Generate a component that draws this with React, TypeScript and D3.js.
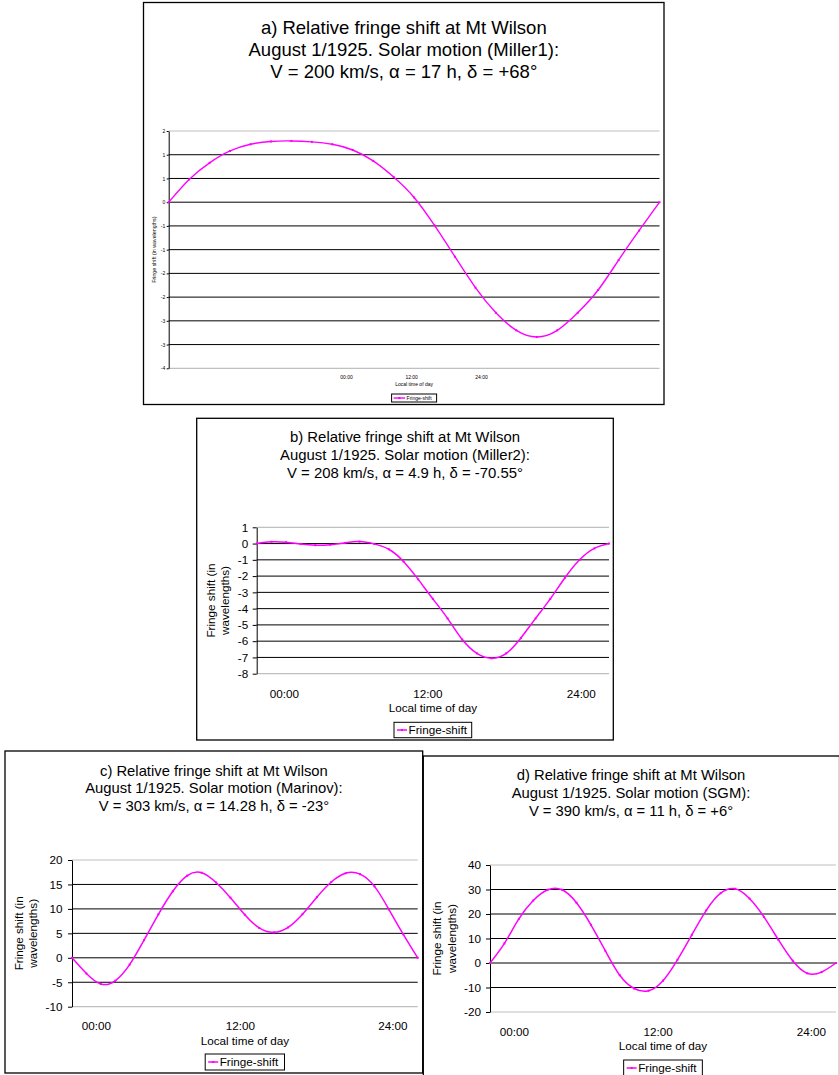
import { useEffect, useRef } from 'react';
import * as d3 from 'd3';

// sample times (hours after start of the run)
const HOURS = [0, 1, 2, 3, 4, 5, 6, 7, 8, 9, 10, 11, 12, 13, 14, 15, 16, 17, 18, 19, 20, 21, 22, 23, 24];

// fringe shift, one value per hour
const SHIFT_A = [0, 0.48, 0.83, 1.08, 1.22, 1.28, 1.29, 1.27, 1.22, 1.1, 0.87, 0.53, 0.1, -0.49, -1.15, -1.8, -2.33, -2.7, -2.84, -2.7, -2.33, -1.85, -1.22, -0.6, 0];
const SHIFT_B = [0, 0.11, 0.08, -0.03, -0.1, -0.07, 0.04, 0.12, -0.02, -0.35, -1.1, -2.2, -3.4, -4.6, -5.9, -6.75, -7.05, -6.75, -5.8, -4.6, -3.4, -2.1, -1.0, -0.3, 0];
const SHIFT_C = [0, -3.2, -5.35, -4.7, -1.4, 3.6, 8.9, 13.6, 16.8, 17.4, 15.4, 12.3, 8.8, 6.1, 5.2, 6.2, 8.9, 12.4, 15.5, 17.3, 17.1, 14.6, 9.9, 4.8, 0];
const SHIFT_D = [0, 8, 18, 25.5, 29.9, 29.9, 24.6, 15.6, 5, -5.0, -10.4, -11.3, -7.2, 1.3, 11.5, 21.5, 28.5, 30.3, 26.3, 18.8, 9.5, 0.9, -4.2, -3.7, 0];

// y ticks and their printed labels (panel a prints rounded half-steps)
const TICKS_A = [1.5, 1, 0.5, 0, -0.5, -1, -1.5, -2, -2.5, -3, -3.5];
const TICK_LABELS_A = ['2', '1', '1', '0', '-1', '-1', '-2', '-2', '-3', '-3', '-4'];
const TICKS_B = [1, 0, -1, -2, -3, -4, -5, -6, -7, -8];
const TICK_LABELS_B = ['1', '0', '-1', '-2', '-3', '-4', '-5', '-6', '-7', '-8'];
const TICKS_C = [20, 15, 10, 5, 0, -5, -10];
const TICK_LABELS_C = ['20', '15', '10', '5', '0', '-5', '-10'];
const TICKS_D = [40, 30, 20, 10, 0, -10, -20];
const TICK_LABELS_D = ['40', '30', '20', '10', '0', '-10', '-20'];

// category labels and where the spreadsheet put them on the time axis
const TIME_LABELS = ['00:00', '12:00', '24:00'];
const TIME_AT_A = [8.7, 11.88, 15.3];
const TIME_AT_B = [1.89, 11.66, 22.11];
const TIME_AT_C = [1.69, 11.69, 22.27];
const TIME_AT_D = [1.69, 11.67, 22.3];

const TITLE_A = ['a) Relative fringe shift at Mt Wilson', 'August 1/1925. Solar motion (Miller1):', 'V = 200 km/s, \u03b1 = 17 h, \u03b4 = +68\u00b0'];
const TITLE_B = ['b) Relative fringe shift at Mt Wilson', 'August 1/1925. Solar motion (Miller2):', 'V = 208 km/s, \u03b1 = 4.9 h, \u03b4 = -70.55\u00b0'];
const TITLE_C = ['c) Relative fringe shift at Mt Wilson', 'August 1/1925. Solar motion (Marinov):', 'V = 303 km/s, \u03b1 = 14.28 h, \u03b4 = -23\u00b0'];
const TITLE_D = ['d) Relative fringe shift at Mt Wilson', 'August 1/1925. Solar motion (SGM):', 'V = 390 km/s, \u03b1 = 11 h, \u03b4 = +6\u00b0'];

const X_TITLE = 'Local time of day';
const SERIES_NAME = 'Fringe-shift';

const FONT = '"Liberation Sans", Arial, sans-serif';
const PINK = '#ff00ff';

type Layout = {
  box: [number, number, number, number];
  plot: [number, number, number, number];
  title: { x: number; y: number; gap: number; size: number };
  tick: { size: number; gap: number; len: number };
  yTitle: { lines: string[]; x: number[]; size: number };
  xLabelY: number;
  xTitleY: number;
  legend: { y: number; w: number; h: number; size: number; line: [number, number]; textX: number };
  stroke: number;
  marker: number;
};

type Panel = {
  shift: number[];
  ticks: number[];
  tickLabels: string[];
  timeAt: number[];
  title: string[];
  layout: Layout;
};

const PANELS: Panel[] = [
  {
    shift: SHIFT_A,
    ticks: TICKS_A,
    tickLabels: TICK_LABELS_A,
    timeAt: TIME_AT_A,
    title: TITLE_A,
    layout: {
      box: [143.5, 2.5, 664, 404.5],
      plot: [168.7, 131, 659.5, 368.3],
      title: { x: 403.8, y: 33.5, gap: 22, size: 18.5 },
      tick: { size: 5, gap: 3.5, len: 2 },
      yTitle: { lines: ['Fringe shift (in wavelengths)'], x: [154], size: 5.3 },
      xLabelY: 378.5,
      xTitleY: 385.8,
      legend: { y: 394, w: 45, h: 8, size: 5, line: [2, 13.5], textX: 15 },
      stroke: 1.4,
      marker: 2,
    },
  },
  {
    shift: SHIFT_B,
    ticks: TICKS_B,
    tickLabels: TICK_LABELS_B,
    timeAt: TIME_AT_B,
    title: TITLE_B,
    layout: {
      box: [196.7, 418.3, 613.3, 740],
      plot: [256.7, 527.3, 609, 673.7],
      title: { x: 405, y: 442.4, gap: 17.8, size: 14.9 },
      tick: { size: 11.7, gap: 8.5, len: 4 },
      yTitle: { lines: ['Fringe shift (in', 'wavelengths)'], x: [211, 225], size: 11.7 },
      xLabelY: 697.9,
      xTitleY: 712.2,
      legend: { y: 722.3, w: 77.7, h: 15.4, size: 11.7, line: [3, 13], textX: 14.5 },
      stroke: 1.5,
      marker: 2,
    },
  },
  {
    shift: SHIFT_C,
    ticks: TICKS_C,
    tickLabels: TICK_LABELS_C,
    timeAt: TIME_AT_C,
    title: TITLE_C,
    layout: {
      box: [5, 751, 422.7, 1073],
      plot: [72, 860, 417.7, 1006.7],
      title: { x: 213.9, y: 775.5, gap: 17.9, size: 14.8 },
      tick: { size: 11.7, gap: 9.5, len: 4 },
      yTitle: { lines: ['Fringe shift (in', 'wavelengths)'], x: [19, 33.3], size: 11.7 },
      xLabelY: 1029.9,
      xTitleY: 1044.9,
      legend: { y: 1054, w: 79.3, h: 16, size: 11.7, line: [3, 13], textX: 14.5 },
      stroke: 1.5,
      marker: 2,
    },
  },
  {
    shift: SHIFT_D,
    ticks: TICKS_D,
    tickLabels: TICK_LABELS_D,
    timeAt: TIME_AT_D,
    title: TITLE_D,
    layout: {
      box: [423.3, 756, 839.5, 1090],
      plot: [490, 865, 836, 1012],
      title: { x: 631, y: 780.4, gap: 17.9, size: 14.8 },
      tick: { size: 11.7, gap: 9, len: 4 },
      yTitle: { lines: ['Fringe shift (in', 'wavelengths)'], x: [436.7, 451.7], size: 11.7 },
      xLabelY: 1035.9,
      xTitleY: 1049.9,
      legend: { y: 1060, w: 78.7, h: 16, size: 11.7, line: [3, 13], textX: 14.5 },
      stroke: 1.5,
      marker: 2,
    },
  },
];

function drawPanel(svg: d3.Selection<SVGSVGElement, unknown, null, undefined>, p: Panel) {
  const L = p.layout;
  const [bx0, by0, bx1, by1] = L.box;
  const [px0, py0, px1, py1] = L.plot;
  const g = svg.append('g').attr('font-family', FONT).attr('fill', '#000');

  g.append('rect')
    .attr('x', bx0)
    .attr('y', by0)
    .attr('width', bx1 - bx0)
    .attr('height', by1 - by0)
    .attr('fill', '#fff')
    .attr('stroke', '#000')
    .attr('stroke-width', 1.3);

  // title, three centred lines
  p.title.forEach((line, i) => {
    g.append('text')
      .attr('x', L.title.x)
      .attr('y', L.title.y + i * L.title.gap)
      .attr('text-anchor', 'middle')
      .attr('font-size', L.title.size)
      .text(line);
  });

  const x = d3.scaleLinear().domain([HOURS[0], HOURS[HOURS.length - 1]]).range([px0, px1]);
  const [yMin, yMax] = d3.extent(p.ticks) as [number, number];
  const y = d3.scaleLinear().domain([yMin, yMax]).range([py1, py0]);

  // gridlines; the plot-area edges are light grey
  p.ticks.forEach((t) => {
    const edge = t === yMin || t === yMax;
    g.append('line')
      .attr('x1', px0)
      .attr('x2', px1)
      .attr('y1', y(t))
      .attr('y2', y(t))
      .attr('stroke', edge ? '#c0c0c0' : '#000')
      .attr('stroke-width', edge ? 1.2 : 1);
  });

  const axis = d3
    .axisLeft(y)
    .tickValues(p.ticks)
    .tickFormat((d) => p.tickLabels[p.ticks.indexOf(d as number)])
    .tickSize(L.tick.len)
    .tickSizeOuter(0)
    .tickPadding(L.tick.gap - L.tick.len);
  const ax = g.append('g').attr('transform', `translate(${px0},0)`).call(axis);
  ax.attr('font-family', FONT).attr('font-size', L.tick.size);
  ax.selectAll('path.domain').attr('stroke', '#000').attr('stroke-width', 1);
  ax.selectAll('.tick line').attr('stroke', '#000');
  ax.selectAll('.tick text').attr('fill', '#000');

  // y-axis title
  const yc = (py0 + py1) / 2;
  L.yTitle.lines.forEach((line, i) => {
    g.append('text')
      .attr('transform', `translate(${L.yTitle.x[i]},${yc}) rotate(-90)`)
      .attr('text-anchor', 'middle')
      .attr('dy', '0.35em')
      .attr('font-size', L.yTitle.size)
      .text(line);
  });

  // time labels
  TIME_LABELS.forEach((lab, i) => {
    g.append('text')
      .attr('x', x(p.timeAt[i]))
      .attr('y', L.xLabelY)
      .attr('text-anchor', 'middle')
      .attr('font-size', L.tick.size)
      .text(lab);
  });
  const xc = (px0 + px1) / 2;
  g.append('text')
    .attr('x', xc)
    .attr('y', L.xTitleY)
    .attr('text-anchor', 'middle')
    .attr('font-size', L.tick.size)
    .text(X_TITLE);

  // the series
  const line = d3
    .line<number>()
    .x((_, i) => x(HOURS[i]))
    .y((d) => y(d))
    .curve(d3.curveNatural);
  g.append('path')
    .attr('d', line(p.shift) as string)
    .attr('fill', 'none')
    .attr('stroke', PINK)
    .attr('stroke-width', L.stroke);
  g.selectAll(null)
    .data(p.shift)
    .join('rect')
    .attr('x', (_, i) => x(HOURS[i]) - L.marker / 2)
    .attr('y', (d) => y(d) - L.marker / 2)
    .attr('width', L.marker)
    .attr('height', L.marker)
    .attr('fill', PINK);

  // legend
  const lg = L.legend;
  const lx = xc - lg.w / 2;
  g.append('rect')
    .attr('x', lx)
    .attr('y', lg.y)
    .attr('width', lg.w)
    .attr('height', lg.h)
    .attr('fill', '#fff')
    .attr('stroke', '#000')
    .attr('stroke-width', 1);
  const ly = lg.y + lg.h / 2;
  g.append('line')
    .attr('x1', lx + lg.line[0])
    .attr('x2', lx + lg.line[1])
    .attr('y1', ly)
    .attr('y2', ly)
    .attr('stroke', PINK)
    .attr('stroke-width', L.stroke);
  g.append('rect')
    .attr('x', lx + (lg.line[0] + lg.line[1]) / 2 - L.marker / 2)
    .attr('y', ly - L.marker / 2)
    .attr('width', L.marker)
    .attr('height', L.marker)
    .attr('fill', PINK);
  g.append('text')
    .attr('x', lx + lg.textX)
    .attr('y', ly)
    .attr('dy', '0.35em')
    .attr('font-size', lg.size)
    .text(SERIES_NAME);
}

export default function App() {
  const ref = useRef<SVGSVGElement | null>(null);

  useEffect(() => {
    if (!ref.current) return;
    const svg = d3.select(ref.current);
    svg.selectAll('*').remove();
    svg.append('rect').attr('width', 839).attr('height', 1075).attr('fill', '#fff');
    PANELS.forEach((p) => drawPanel(svg, p));
  }, []);

  return (
    <svg
      ref={ref}
      width={839}
      height={1075}
      viewBox="0 0 839 1075"
      style={{ position: 'absolute', left: 0, top: 0, display: 'block' }}
    />
  );
}
